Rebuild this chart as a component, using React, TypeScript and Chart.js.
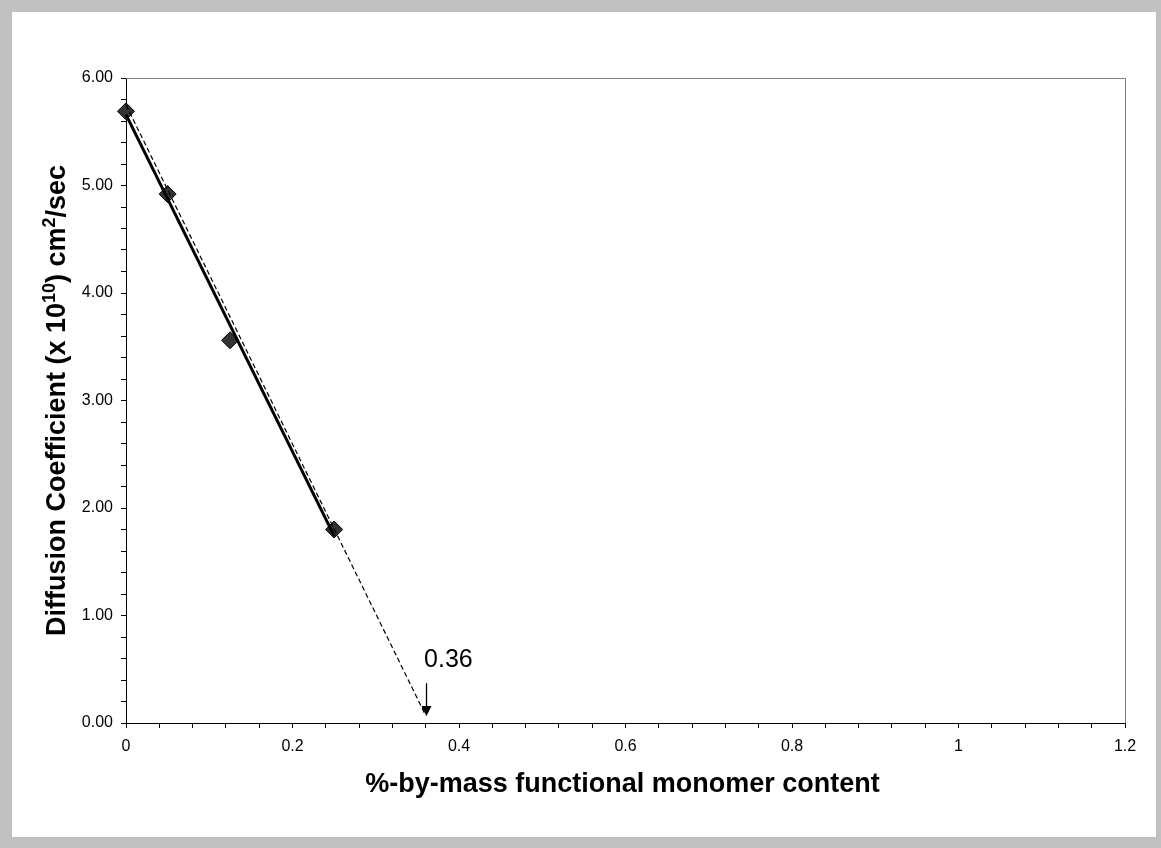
import React, { useEffect, useRef } from "react";
import { Chart, registerables } from "chart.js";

Chart.register(...registerables);

// ---- data ----
const monomerContent = [0, 0.05, 0.125, 0.25];
const diffusionCoeff = [5.69, 4.92, 3.56, 1.8];

const fitX = [0, 0.25];
const fitY = [5.66, 1.74];

const extrapX = [0, 0.36];
const extrapY = [5.75, 0.07];

const interceptValue = 0.36;
const interceptLabel = "0.36";
const arrowFromY = 0.37;
const arrowToY = 0.065;
const labelX = 0.358;
const labelY = 0.52;

const xTitle = "%-by-mass functional monomer content";
const yTitleParts: { text: string; sup?: boolean }[] = [
  { text: "Diffusion Coefficient (x 10" },
  { text: "10", sup: true },
  { text: ") cm" },
  { text: "2", sup: true },
  { text: "/sec" },
];

const xMin = 0;
const xMax = 1.2;
const xStep = 0.04;
const xLabelEvery = 0.2;
const yMin = 0;
const yMax = 6;
const yStep = 0.2;
const yLabelEvery = 1;

const FONT = '"Liberation Sans", Arial, Helvetica, sans-serif';

const toPoints = (xs: number[], ys: number[]) => xs.map((x, i) => ({ x, y: ys[i] }));

const isMultiple = (v: number, m: number) => Math.abs(v / m - Math.round(v / m)) < 1e-6;

const decorPlugin = {
  id: "decor",
  afterDatasetsDraw(chart: any) {
    const { ctx, chartArea: a, scales } = chart;
    const x = scales.x;
    const y = scales.y;
    ctx.save();
    // plot frame (top and right)
    ctx.strokeStyle = "#808080";
    ctx.lineWidth = 1;
    ctx.beginPath();
    ctx.moveTo(a.left, Math.round(a.top) + 0.5);
    ctx.lineTo(Math.round(a.right) + 0.5, Math.round(a.top) + 0.5);
    ctx.lineTo(Math.round(a.right) + 0.5, a.bottom);
    ctx.stroke();

    // arrow at intercept
    const ax = Math.round(x.getPixelForValue(interceptValue)) + 0.5;
    const y1 = y.getPixelForValue(arrowFromY);
    const y2 = y.getPixelForValue(arrowToY);
    ctx.strokeStyle = "#000";
    ctx.lineWidth = 1.3;
    ctx.beginPath();
    ctx.moveTo(ax, y1);
    ctx.lineTo(ax, y2 - 8);
    ctx.stroke();
    ctx.fillStyle = "#000";
    ctx.beginPath();
    ctx.moveTo(ax - 5, y2 - 10);
    ctx.lineTo(ax + 5, y2 - 10);
    ctx.lineTo(ax, y2);
    ctx.closePath();
    ctx.fill();

    ctx.font = `25px ${FONT}`;
    ctx.textAlign = "left";
    ctx.textBaseline = "alphabetic";
    ctx.fillText(interceptLabel, x.getPixelForValue(labelX), y.getPixelForValue(labelY));
    ctx.restore();
  },
  afterDraw(chart: any) {
    const { ctx, chartArea: a } = chart;
    ctx.save();
    ctx.fillStyle = "#000";
    ctx.textBaseline = "alphabetic";

    // x title
    ctx.font = `bold 27px ${FONT}`;
    ctx.textAlign = "center";
    ctx.fillText(xTitle, (a.left + a.right) / 2 - 3, a.bottom + 69);

    // y title (rotated, with superscripts)
    const mainFont = `bold 27px ${FONT}`;
    const supFont = `bold 18px ${FONT}`;
    let total = 0;
    const widths = yTitleParts.map((p) => {
      ctx.font = p.sup ? supFont : mainFont;
      const w = ctx.measureText(p.text).width;
      total += w;
      return w;
    });
    ctx.translate(a.left - 61, (a.top + a.bottom) / 2);
    ctx.rotate(-Math.PI / 2);
    ctx.textAlign = "left";
    let cx = -total / 2;
    yTitleParts.forEach((p, i) => {
      ctx.font = p.sup ? supFont : mainFont;
      ctx.fillText(p.text, cx, p.sup ? -10 : 0);
      cx += widths[i];
    });
    ctx.restore();
  },
};

export default function App() {
  const canvasRef = useRef<HTMLCanvasElement | null>(null);

  useEffect(() => {
    const canvas = canvasRef.current;
    if (!canvas) return;
    const chart = new Chart(canvas, {
      type: "scatter",
      data: {
        datasets: [
          {
            label: "Extrapolation",
            data: toPoints(extrapX, extrapY),
            showLine: true,
            borderColor: "#000",
            borderWidth: 1.2,
            borderDash: [5, 3],
            pointRadius: 0,
            fill: false,
            clip: false as any,
            order: 0,
          },
          {
            label: "Linear fit",
            data: toPoints(fitX, fitY),
            showLine: true,
            borderColor: "#000",
            borderWidth: 3,
            pointRadius: 0,
            fill: false,
            clip: false as any,
            order: 1,
          },
          {
            label: "Diffusion coefficient",
            data: toPoints(monomerContent, diffusionCoeff),
            showLine: false,
            pointStyle: "rectRot",
            pointRadius: 8.5,
            pointBackgroundColor: "#333333",
            pointBorderColor: "#000",
            pointBorderWidth: 1,
            clip: false as any,
            order: 2,
          },
        ],
      },
      options: {
        responsive: false,
        animation: false,
        events: [],
        layout: { padding: { left: 0, right: 36, top: 78, bottom: 0 } },
        plugins: {
          legend: { display: false },
          tooltip: { enabled: false },
        },
        scales: {
          x: {
            type: "linear",
            min: xMin,
            max: xMax,
            afterFit: (s: any) => {
              s.height = 125;
            },
            border: { display: true, color: "#000", width: 1 },
            grid: {
              display: true,
              drawOnChartArea: false,
              drawTicks: true,
              tickLength: 5,
              tickColor: "#000",
              tickWidth: 1,
            },
            ticks: {
              stepSize: xStep,
              maxTicksLimit: 200,
              autoSkip: false,
              maxRotation: 0,
              minRotation: 0,
              padding: 9,
              color: "#000",
              font: { family: FONT, size: 16 },
              callback: (v: any) => {
                const n = Number(v);
                return isMultiple(n, xLabelEvery) ? String(Math.round(n * 10) / 10) : "";
              },
            },
          },
          y: {
            type: "linear",
            min: yMin,
            max: yMax,
            afterFit: (s: any) => {
              s.width = 126;
            },
            border: { display: true, color: "#000", width: 1 },
            grid: {
              display: true,
              drawOnChartArea: false,
              drawTicks: true,
              tickLength: 5,
              tickColor: "#000",
              tickWidth: 1,
            },
            ticks: {
              stepSize: yStep,
              maxTicksLimit: 200,
              autoSkip: false,
              padding: 8,
              color: "#000",
              font: { family: FONT, size: 16 },
              callback: (v: any) => {
                const n = Number(v);
                return isMultiple(n, yLabelEvery) ? n.toFixed(2) : "";
              },
            },
          },
        },
      },
      plugins: [decorPlugin],
    });
    return () => chart.destroy();
  }, []);

  return (
    <div
      style={{
        position: "absolute",
        left: 0,
        top: 0,
        width: 1161,
        height: 848,
        background: "#c0c0c0",
        overflow: "hidden",
      }}
    >
      <div
        style={{
          position: "absolute",
          left: 12,
          top: 12,
          width: 1144,
          height: 825,
          background: "#ffffff",
        }}
      />
      <canvas
        ref={canvasRef}
        width={1161}
        height={848}
        style={{ position: "absolute", left: 0, top: 0, width: 1161, height: 848 }}
      />
    </div>
  );
}
